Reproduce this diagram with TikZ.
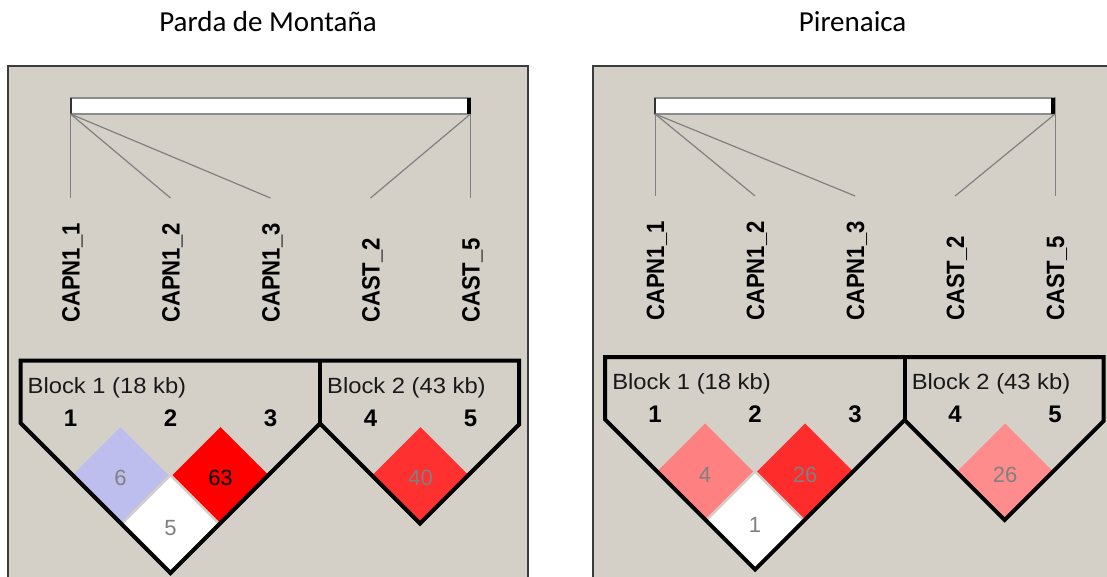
\documentclass[tikz,border=0pt]{standalone}
\usepackage{fontspec}
\setmainfont{Liberation Sans}
\newfontfamily\titlefont{Carlito}
\usetikzlibrary{shapes.geometric}
\definecolor{panelgray}{RGB}{212,208,200}
\definecolor{paneledge}{RGB}{60,60,60}
\definecolor{bargray}{RGB}{140,140,140}
\definecolor{linegray}{RGB}{128,128,128}
\definecolor{numgray}{RGB}{128,128,128}
\definecolor{lavender}{RGB}{190,190,238}
\definecolor{red63}{RGB}{255,0,0}
\definecolor{red40}{RGB}{255,48,48}
\definecolor{pink4}{RGB}{255,128,128}
\definecolor{red26}{RGB}{255,44,44}
\definecolor{pink26}{RGB}{255,140,140}
\tikzset{
  titletext/.style={anchor=base, inner sep=0pt, font=\titlefont\fontsize{29}{29}\selectfont},
  panelbox/.style={fill=panelgray, draw=paneledge, line width=2pt},
  barbox/.style={draw=bargray, fill=white, line width=1.5pt, minimum width=400pt, minimum height=16pt, inner sep=0pt, outer sep=0pt},
  barcapl/.style={draw=black!80, line width=2pt},
  barcapr/.style={draw=black, line width=4pt},
  snpline/.style={draw=linegray, line width=1.2pt},
  snplabel/.style={rotate=90, anchor=base west, inner sep=0pt, font=\fontsize{25}{25}\selectfont\bfseries},
  blocklabel/.style={anchor=base west, inner sep=0pt, text=black!90, font=\fontsize{22}{22}\selectfont},
  colnum/.style={anchor=base, inner sep=0pt, font=\fontsize{24}{24}\selectfont\bfseries},
  blockline/.style={draw=black, line width=4pt, line join=miter},
  ldcell/.style={shape=diamond, minimum width=96pt, minimum height=96pt, inner sep=0pt, outer sep=0pt, text height=21pt, text depth=0pt, font=\fontsize{22}{22}\selectfont}
}
% #1 prefix, #2 title, #3 vertical shift of the lower part
\newcommand{\hvpanel}[3]{%
  \node[titletext] (#1title) at (268,31) {#2};
  \draw[panelbox] (8,66) rectangle (528,640);
  \node[barbox] (#1bar) at (270.5,106) {};
  \draw[barcapl] (#1bar.north west) -- (#1bar.south west);
  \draw[barcapr] ([xshift=-2pt]#1bar.north east) -- ([xshift=-2pt]#1bar.south east);
  \begin{scope}[shift={(0,#3*0.5)}]
    \coordinate (#1m1) at (70.5,198);
    \coordinate (#1m2) at (170.5,198);
    \coordinate (#1m3) at (270.5,198);
    \coordinate (#1m4) at (370.5,198);
    \coordinate (#1m5) at (470.5,198);
    \node[snplabel] (#1lab1) at (79.5,323) {\scalebox{0.885}[1]{CAPN1\_1}};
    \node[snplabel] (#1lab2) at (179.5,323) {\scalebox{0.885}[1]{CAPN1\_2}};
    \node[snplabel] (#1lab3) at (279.5,323) {\scalebox{0.885}[1]{CAPN1\_3}};
    \node[snplabel] (#1lab4) at (379.5,323) {\scalebox{0.885}[1]{CAST\_2}};
    \node[snplabel] (#1lab5) at (479.5,323) {\scalebox{0.885}[1]{CAST\_5}};
  \end{scope}
  \draw[snpline] (#1bar.south west) -- (#1m1);
  \draw[snpline] (#1bar.south west) -- (#1m2);
  \draw[snpline] (#1bar.south west) -- (#1m3);
  \draw[snpline] (#1bar.south east) -- (#1m4);
  \draw[snpline] (#1bar.south east) -- (#1m5);
}
\newcommand{\hvblocks}[1]{%
  \node[blocklabel] (#1bl1) at (27.5,393) {\scalebox{1.08}[1]{Block 1 (18 kb)}};
  \node[blocklabel] (#1bl2) at (327,393) {\scalebox{1.08}[1]{Block 2 (43 kb)}};
  \node[colnum] (#1n1) at (70.5,426) {1};
  \node[colnum] (#1n2) at (170.5,426) {2};
  \node[colnum] (#1n3) at (270.5,426) {3};
  \node[colnum] (#1n4) at (370.5,426) {4};
  \node[colnum] (#1n5) at (470.5,426) {5};
}
\newcommand{\hvoutline}{%
  \draw[blockline] (20.5,360.5) -- (20.5,423) -- (170.5,573) -- (320,423.5) -- (420,523.5) -- (519,424.5) -- (519,360.5) -- cycle;
  \draw[blockline] (320,360.5) -- (320,423.5);
}
\begin{document}
\begin{tikzpicture}[x=1pt,y=-1pt]
  \useasboundingbox (0,0) rectangle (1107,576);
  \clip (0,0) rectangle (1107,576);
  \fill[white] (0,0) rectangle (1107,576);
  % left panel
  \begin{scope}
    \hvpanel{L}{Parda de Montaña}{0}
    \hvblocks{L}
    \node[ldcell, fill=lavender, text=numgray] (Lc12) at (120.5,475) {6};
    \node[ldcell, fill=red63, text=black] (Lc23) at (220.5,475) {63};
    \node[ldcell, fill=white, text=numgray] (Lc13) at (170.5,525) {5};
    \node[ldcell, fill=red40, text=numgray] (Lc45) at (420.5,475) {40};
    \hvoutline
  \end{scope}
  % right panel
  \begin{scope}[shift={(584.6,0)}]
    \hvpanel{R}{Pirenaica}{-4}
    \begin{scope}[shift={(0,-3.5)}]
      \hvblocks{R}
      \node[ldcell, fill=pink4, text=numgray] (Rc12) at (120.5,475) {4};
      \node[ldcell, fill=red26, text=numgray] (Rc23) at (220.5,475) {26};
      \node[ldcell, fill=white, text=numgray] (Rc13) at (170.5,525) {1};
      \node[ldcell, fill=pink26, text=numgray] (Rc45) at (420.5,475) {26};
      \hvoutline
    \end{scope}
  \end{scope}
\end{tikzpicture}
\end{document}
